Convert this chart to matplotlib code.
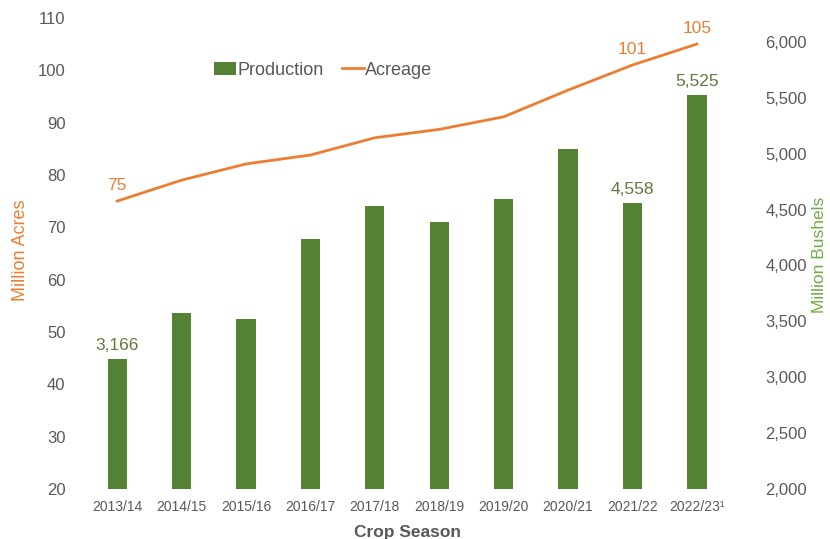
import matplotlib.pyplot as plt
import numpy as np

plt.rcParams['font.family'] = ['Liberation Sans', 'DejaVu Sans']

# crop seasons, production (million bushels) and planted area (million acres)
seasons = ["2013/14", "2014/15", "2015/16", "2016/17", "2017/18",
           "2018/19", "2019/20", "2020/21", "2021/22", "2022/23"]
production = [3166, 3572, 3518, 4232, 4527, 4384, 4598, 5045, 4558, 5525]
acreage = [75, 79.0, 82.1, 83.8, 87.1, 88.7, 91.1, 96.2, 101, 105]

# which points get a value label
prod_labeled = [0, 8, 9]
acre_labeled = [0, 8, 9]

GREEN = "#548235"
ORANGE = "#ED7D31"
GREY = "#595959"

fig = plt.figure(figsize=(8.30, 5.39), dpi=100)
ax = fig.add_axes([0.1024, 0.0928, 0.776, 0.874])
ax2 = ax.twinx()

x = np.arange(len(seasons))

# bars on the right-hand axis, line on the left-hand axis
ax2.bar(x, production, width=0.3, color=GREEN, label="Production", zorder=2)
ax2.set_ylim(2000, 6214)
ax2.set_yticks(range(2000, 6001, 500))
ax2.set_yticklabels([f"{v:,}" for v in range(2000, 6001, 500)])

ax.plot(x, acreage, color=ORANGE, lw=2, label="Acreage", zorder=3)
ax.set_ylim(20, 110)
ax.set_yticks(range(20, 111, 10))
ax.set_xlim(-0.5, len(seasons) - 0.5)
ax.set_zorder(ax2.get_zorder() + 1)
ax.patch.set_visible(False)

ax.set_xticks(x)
ticklabels = seasons[:-1] + [seasons[-1] + "\u00b9"]
ax.set_xticklabels(ticklabels)

for a in (ax, ax2):
    for s in a.spines.values():
        s.set_visible(False)
    a.tick_params(length=0, labelsize=12, colors=GREY)
ax.tick_params(axis='x', labelsize=10, pad=8)
ax.tick_params(axis='y', pad=14)
ax2.tick_params(axis='y', pad=26)

ax.set_ylabel("Million Acres", color=ORANGE, fontsize=13)
ax.yaxis.set_label_coords(-0.087, 0.507)
ax2.set_ylabel("Million Bushels", color="#70AD47", fontsize=12.5)
ax2.yaxis.set_label_coords(1.128, 0.497)
ax.set_xlabel("Crop Season", color=GREY, fontsize=12.5, fontweight="bold", labelpad=8)

for i in prod_labeled:
    ax2.annotate(f"{production[i]:,}", (x[i], production[i]), xytext=(0, 4),
                 textcoords="offset points", ha="center", va="bottom",
                 fontsize=12.5, color="#5E7A3C")
for i in acre_labeled:
    ax.annotate(f"{acreage[i]:.0f}", (x[i], acreage[i]), xytext=(0, 6),
                textcoords="offset points", ha="center", va="bottom",
                fontsize=12.5, color=ORANGE)

h1, l1 = ax2.get_legend_handles_labels()
h2, l2 = ax.get_legend_handles_labels()
ax.legend(h1 + h2, l1 + l2, loc="center", bbox_to_anchor=(0.37, 0.889), ncol=2,
          frameon=False, fontsize=13, labelcolor=GREY, handlelength=1.2,
          handletextpad=0.1, columnspacing=1.0)

fig.savefig("out.png", dpi=100)
